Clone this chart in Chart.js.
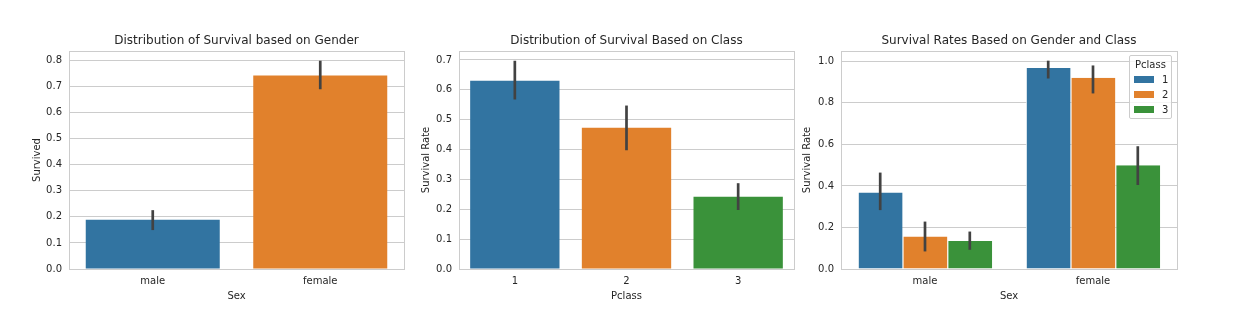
<!DOCTYPE html>
<html>
<head>
<meta charset="utf-8">
<title>Titanic survival</title>
<script src="https://cdn.jsdelivr.net/npm/chart.js@4.4.0/dist/chart.umd.min.js"></script>
<style>
  body { margin: 0; background: #fff; width: 1239px; height: 327px; position: relative; overflow: hidden; font-family: "DejaVu Sans", sans-serif; color: #262626; }
  canvas { position: absolute; top: 0; }
  #pclass-legend { position: absolute; left: 1129px; top: 55px; width: 41px; height: 62px; background: rgba(255,255,255,0.8); border: 1px solid #cccccc; border-radius: 2px; font-size: 10px; }
  #pclass-legend .lg-title { position: absolute; left: 0; right: 0; top: 3px; text-align: center; line-height: 12px; }
  #pclass-legend .lg-row { position: absolute; left: 4px; height: 12px; line-height: 12px; }
  #pclass-legend .lg-swatch { position: absolute; left: 0; top: 2px; width: 20px; height: 7px; }
  #pclass-legend .lg-text { position: absolute; left: 28px; top: 0; }
</style>
</head>
<body>
<canvas id="sex-chart" width="420" height="327" style="left:0"></canvas>
<canvas id="class-chart" width="400" height="327" style="left:410px"></canvas>
<canvas id="sexclass-chart" width="420" height="327" style="left:790px"></canvas>
<div id="pclass-legend"></div>

<script>
// seaborn default palette
const palette = ['#3274a1', '#e1812c', '#3a923a'];

// survival by sex
const sexLabels = ['male', 'female'];
const sexSurvival = [0.189, 0.742];
const sexCiLow = [0.152, 0.692];
const sexCiHigh = [0.223, 0.796];

// survival by passenger class
const classLabels = ['1', '2', '3'];
const classSurvival = [0.630, 0.473, 0.242];
const classCiLow = [0.570, 0.400, 0.200];
const classCiHigh = [0.695, 0.545, 0.285];

// survival by sex, split by class (one array per class, ordered male, female)
const pclassNames = ['1', '2', '3'];
const sexClassSurvival = [
  [0.369, 0.968],
  [0.157, 0.921],
  [0.135, 0.500]
];
const sexClassCiLow = [
  [0.287, 0.921],
  [0.088, 0.849],
  [0.096, 0.408]
];
const sexClassCiHigh = [
  [0.461, 1.000],
  [0.225, 0.977],
  [0.177, 0.588]
];

const textColor = '#262626';
const gridColor = '#cccccc';
const font10 = { family: 'DejaVu Sans', size: 10 };

// vertical confidence lines on top of every bar
const errorBars = {
  id: 'errorBars',
  afterDatasetsDraw(chart) {
    const { ctx } = chart;
    const y = chart.scales.y;
    ctx.save();
    ctx.strokeStyle = '#424242';
    ctx.lineWidth = 2.7;
    ctx.lineCap = 'butt';
    chart.data.datasets.forEach((ds, i) => {
      chart.getDatasetMeta(i).data.forEach((bar, j) => {
        ctx.beginPath();
        ctx.moveTo(bar.x, y.getPixelForValue(ds.ciLow[j]) + 0.7);
        ctx.lineTo(bar.x, y.getPixelForValue(ds.ciHigh[j]) - 0.7);
        ctx.stroke();
      });
    });
    ctx.restore();
  }
};

// light frame round the plotting area, on the same pixels as the grid lines
const axesFrame = {
  id: 'axesFrame',
  afterDraw(chart) {
    const { ctx, chartArea: a } = chart;
    const snap = p => Math.round(p - 0.5) + 0.5;
    ctx.save();
    ctx.strokeStyle = gridColor;
    ctx.lineWidth = 1;
    const l = snap(a.left), t = snap(a.top), r = snap(a.right), b = snap(a.bottom);
    ctx.strokeRect(l, t, r - l, b - t);
    ctx.restore();
  }
};

function barOptions(o) {
  return {
    responsive: false,
    animation: false,
    layout: { padding: { left: 0, right: o.padRight, top: 0, bottom: 0 } },
    plugins: {
      legend: { display: false },
      tooltip: { enabled: false },
      title: {
        display: true,
        fullSize: false,
        text: o.title,
        color: textColor,
        font: { family: 'DejaVu Sans', size: 12, weight: 'normal' },
        padding: { top: 34, bottom: 2.6 }
      }
    },
    scales: {
      x: {
        grid: { display: false, drawTicks: false },
        border: { display: false },
        ticks: { color: textColor, font: font10, padding: 6 },
        title: { display: true, text: o.xTitle, color: textColor, font: font10, padding: { top: 0, bottom: 25 } },
        afterFit(scale) { scale.height = 58; }
      },
      y: {
        min: 0,
        max: o.yMax,
        grid: { color: gridColor, drawTicks: false },
        border: { display: false },
        ticks: {
          stepSize: o.step,
          includeBounds: false,
          color: textColor,
          font: font10,
          padding: 7,
          callback: v => v.toFixed(1)
        },
        title: { display: true, text: o.yTitle, color: textColor, font: font10, padding: { top: o.yTitlePad, bottom: 0 } },
        afterFit(scale) { scale.width = o.yWidth; }
      }
    }
  };
}

new Chart(document.getElementById('sex-chart'), {
  type: 'bar',
  data: {
    labels: sexLabels,
    datasets: [{
      data: sexSurvival,
      ciLow: sexCiLow,
      ciHigh: sexCiHigh,
      backgroundColor: palette.slice(0, sexLabels.length),
      borderWidth: 0,
      categoryPercentage: 0.8,
      barPercentage: 1
    }]
  },
  options: barOptions({
    title: 'Distribution of Survival based on Gender',
    xTitle: 'Sex', yTitle: 'Survived',
    yMax: 0.836, step: 0.1, yWidth: 69, yTitlePad: 31, padRight: 16
  }),
  plugins: [errorBars, axesFrame]
});

new Chart(document.getElementById('class-chart'), {
  type: 'bar',
  data: {
    labels: classLabels,
    datasets: [{
      data: classSurvival,
      ciLow: classCiLow,
      ciHigh: classCiHigh,
      backgroundColor: palette,
      borderWidth: 0,
      categoryPercentage: 0.8,
      barPercentage: 1
    }]
  },
  options: barOptions({
    title: 'Distribution of Survival Based on Class',
    xTitle: 'Pclass', yTitle: 'Survival Rate',
    yMax: 0.730, step: 0.1, yWidth: 49, yTitlePad: 10, padRight: 16
  }),
  plugins: [errorBars, axesFrame]
});

new Chart(document.getElementById('sexclass-chart'), {
  type: 'bar',
  data: {
    labels: sexLabels,
    datasets: pclassNames.map((name, i) => ({
      label: name,
      data: sexClassSurvival[i],
      ciLow: sexClassCiLow[i],
      ciHigh: sexClassCiHigh[i],
      backgroundColor: palette[i],
      borderColor: '#ffffff',
      borderWidth: { left: 1, right: 0, top: 0, bottom: 0 },
      categoryPercentage: 0.8,
      barPercentage: 1
    }))
  },
  options: barOptions({
    title: 'Survival Rates Based on Gender and Class',
    xTitle: 'Sex', yTitle: 'Survival Rate',
    yMax: 1.05, step: 0.2, yWidth: 51, yTitlePad: 11, padRight: 33
  }),
  plugins: [errorBars, axesFrame]
});

// legend box for the class hue
const legendBox = document.getElementById('pclass-legend');
legendBox.innerHTML = '<div class="lg-title">Pclass</div>' + pclassNames.map((name, i) => `
  <div class="lg-row" style="top:${18 + i * 15}px">
    <span class="lg-swatch" style="background:${palette[i]}"></span>
    <span class="lg-text">${name}</span>
  </div>`).join('');
</script>
</body>
</html>
